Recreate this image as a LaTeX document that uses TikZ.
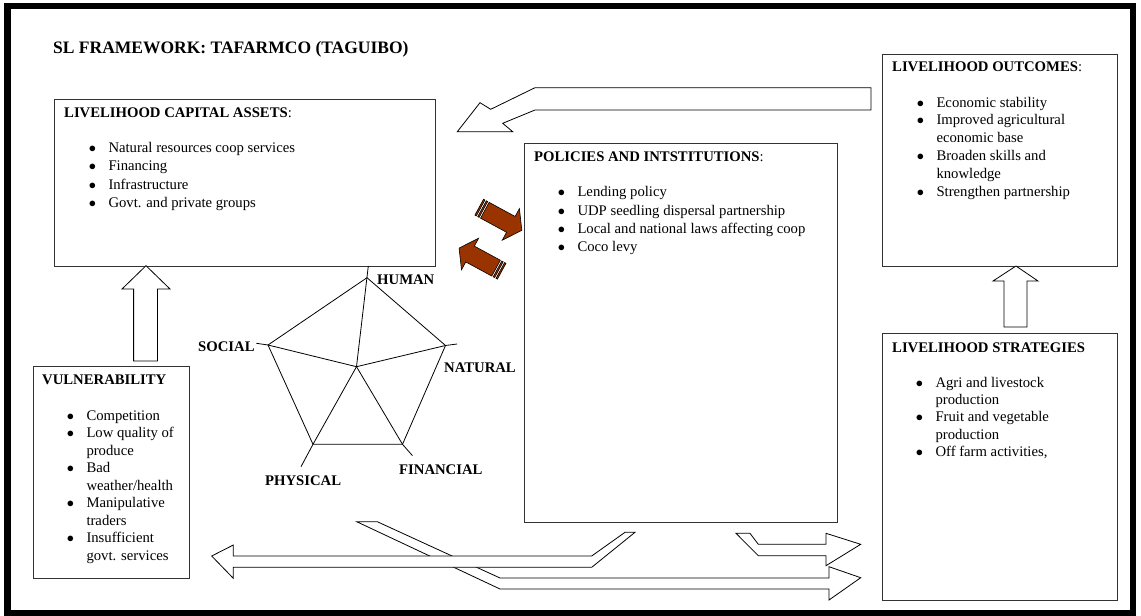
\documentclass[tikz,border=0pt]{standalone}
\usepackage{fontspec}
\setmainfont{Liberation Serif}
\usepackage{array}
\definecolor{brownA}{RGB}{153,51,0}
\newcommand\blist[1]{\begin{tabular}[t]{@{}p{19pt}@{}l@{}}#1\end{tabular}}
\newcommand\bul{\hspace{-0.6pt}$\bullet$}
\begin{document}
\begin{tikzpicture}[x=1pt,y=-1pt,
  box/.style={draw=black!80, line width=0.9pt, inner sep=0pt, anchor=north west},
  txt/.style={inner sep=0pt, anchor=base west, font=\fontsize{14.7}{17.5}\selectfont},
  hdr/.style={inner sep=0pt, anchor=base west, font=\fontsize{14.7}{17.5}\selectfont\bfseries},
  lbl/.style={inner sep=0pt, anchor=base west, font=\fontsize{14.7}{17.5}\selectfont\bfseries},
  blockarrow/.style={draw=black, line width=0.8pt, fill=white, line join=miter},
  brownarrow/.style={draw=black, line width=0.6pt, fill=brownA, line join=miter},
  spoke/.style={draw=black, line width=0.8pt}]
\useasboundingbox (0,0) rectangle (1141,616);
% outer frame
\draw[line width=6.5pt] (7.5,6) rectangle (1133,613.5);

% title
\node[inner sep=0pt, anchor=base west, font=\fontsize{17.5}{20}\selectfont\bfseries] (title) at (53,53) {SL FRAMEWORK: TAFARMCO (TAGUIBO)};

% boxes
\node[box, minimum width=381pt, minimum height=167pt] (assets) at (54,99) {};
\node[box, minimum width=313pt, minimum height=379pt] (policies) at (524,143) {};
\node[box, minimum width=235pt, minimum height=212pt] (outcomes) at (882,54) {};
\node[box, minimum width=235pt, minimum height=267pt] (strategies) at (882,333) {};
\node[box, minimum width=156.5pt, minimum height=212pt] (vulner) at (32.5,366) {};

% headers
\node[hdr] (assetsT) at (64,117) {LIVELIHOOD CAPITAL ASSETS\mdseries:};
\node[hdr] (policiesT) at (534,161.7) {POLICIES AND INTSTITUTIONS\mdseries:};
\node[hdr] (outcomesT) at (892,71) {LIVELIHOOD OUTCOMES\mdseries:};
\node[hdr] (strategiesT) at (892,352) {LIVELIHOOD STRATEGIES};
\node[hdr] (vulnerT) at (42,384) {VULNERABILITY};

% lists
\node[txt] (assetsL) at (89.3,152.5) {\def\arraystretch{1.051}\blist{
  \bul & Natural resources coop services\\
  \bul & Financing\\
  \bul & Infrastructure\\
  \bul & Govt. and private groups}};
\node[txt] (policiesL) at (558.3,196.7) {\def\arraystretch{1.048}\blist{
  \bul & Lending policy\\
  \bul & UDP seedling dispersal partnership\\
  \bul & Local and national laws affecting coop\\
  \bul & Coco levy}};
\node[txt] (outcomesL) at (917.3,107) {\def\arraystretch{1.023}\blist{
  \bul & Economic stability\\
  \bul & Improved agricultural\\
       & economic base\\
  \bul & Broaden skills and\\
       & knowledge\\
  \bul & Strengthen partnership}};
\node[txt] (strategiesL) at (916.3,387) {\def\arraystretch{0.995}\blist{
  \bul & Agri and livestock\\
       & production\\
  \bul & Fruit and vegetable\\
       & production\\
  \bul & Off farm activities,}};
\node[txt] (vulnerL) at (67.3,420) {\def\arraystretch{1.0}\blist{
  \bul & Competition\\
  \bul & Low quality of\\
       & produce\\
  \bul & Bad\\
       & weather/health\\
  \bul & Manipulative\\
       & traders\\
  \bul & Insufficient\\
       & govt. services}};

% pentagon
\coordinate (pc) at (356.5,366.7);
\coordinate (ph) at (367,277.7);
\coordinate (pn) at (445.5,345.5);
\coordinate (pf) at (402.5,444.3);
\coordinate (pp) at (313,444.3);
\coordinate (ps) at (268,345);
\draw[spoke, line join=miter] (ph) -- (pn) -- (pf) -- (pp) -- (ps) -- cycle;
\coordinate (eh) at (368.3,266);
\coordinate (en) at (457,344);
\coordinate (ef) at (412.5,455.7);
\coordinate (ep) at (301,466.7);
\coordinate (es) at (256.4,343.3);
\draw[spoke] (pc) -- (eh);
\draw[spoke] (pc) -- (ps) -- (es);
\draw[spoke] (pc) -- (pn) -- (en);
\draw[spoke] (pc) -- (pf) -- (ef);
\draw[spoke] (pc) -- (pp) -- (ep);
\node[lbl] (human) at (377,284) {HUMAN};
\node[lbl] (social) at (198,351) {SOCIAL};
\node[lbl] (natural) at (444,372.7) {NATURAL};
\node[lbl] (financial) at (399,474) {FINANCIAL};
\node[lbl] (physical) at (265,485) {PHYSICAL};

% up arrow vulnerability -> assets
\draw[blockarrow] (146,265.7) -- (170,289) -- (157.5,289) -- (157.5,361) -- (133.6,361) -- (133.6,289) -- (122,289) -- cycle;
% up arrow strategies -> outcomes
\draw[blockarrow] (1016,266) -- (1038,281) -- (1027,281) -- (1027,327) -- (1004,327) -- (1004,281) -- (993,281) -- cycle;
% top arrow outcomes -> assets
\draw[blockarrow] (871,87.7) -- (535,87.7) -- (490.7,109.3) -- (480,102.7) -- (457.3,131.7) -- (512.7,131.7) -- (502.7,123.3) -- (535,110) -- (871,110) -- cycle;

% brown arrows
\begin{scope}[shift={(479.2,207.2)}, rotate=-28.5]
  \draw[brownarrow] (0,-9) rectangle (1.6,9);
  \draw[brownarrow] (3.2,-9) rectangle (4.8,9);
  \draw[brownarrow] (6.4,-9) -- (36,-9) -- (36,-18) -- (48.5,0) -- (36,18) -- (36,9) -- (6.4,9) -- cycle;
\end{scope}
\begin{scope}[shift={(501.7,271.2)}, rotate=151.5]
  \draw[brownarrow] (0,-9) rectangle (1.6,9);
  \draw[brownarrow] (3.2,-9) rectangle (4.8,9);
  \draw[brownarrow] (6.4,-9) -- (36,-9) -- (36,-18) -- (48.5,0) -- (36,18) -- (36,9) -- (6.4,9) -- cycle;
\end{scope}

% bottom arrows
\draw[blockarrow] (356.7,521.7) -- (377.3,521.7) -- (500,578) -- (829,578) -- (829,566.7) -- (860.7,577.7) -- (829,600) -- (829,589) -- (500,589) -- cycle;
\draw[blockarrow] (211.7,556) -- (233.3,545) -- (233.3,556) -- (591.7,556) -- (625,532.3) -- (635,532.3) -- (591.7,567.3) -- (233.3,567.3) -- (233.3,578.3) -- cycle;
\draw[blockarrow] (736,533.3) -- (750,533.3) -- (758.3,544.3) -- (826,544.3) -- (826,533.3) -- (860.7,544.3) -- (826,565.7) -- (826,555.7) -- (758.3,555.7) -- cycle;
\end{tikzpicture}
\end{document}
